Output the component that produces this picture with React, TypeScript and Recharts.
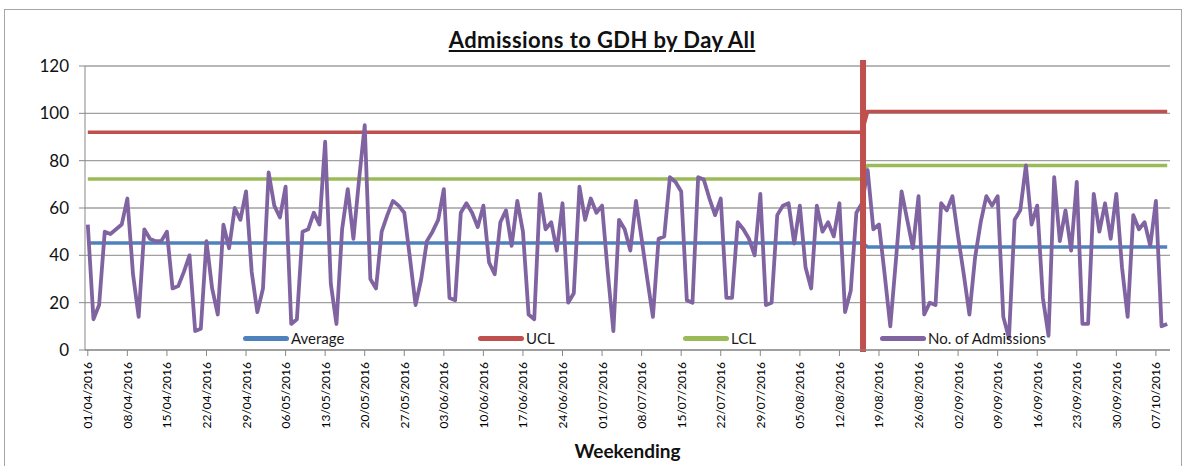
import React from 'react'
import { LineChart, Line, XAxis, YAxis, CartesianGrid, ReferenceLine, Legend } from 'recharts'

// daily admissions, 01/04/2016 .. 09/10/2016
const admissions = [
  53, 13, 19, 50, 49, 51, 53, 64, 32, 14,
  51, 47, 46, 46, 50, 26, 27, 33, 40, 8,
  9, 46, 26, 15, 53, 43, 60, 55, 67, 33,
  16, 26, 75, 61, 56, 69, 11, 13, 50, 51,
  58, 53, 88, 28, 11, 51, 68, 47, 72, 95,
  30, 26, 50, 57, 63, 61, 58, 39, 19, 30,
  46, 50, 55, 68, 22, 21, 58, 62, 58, 52,
  61, 37, 32, 54, 59, 44, 63, 50, 15, 13,
  66, 51, 54, 42, 62, 20, 24, 69, 55, 64,
  58, 61, 33, 8, 55, 51, 42, 63, 47, 30,
  14, 47, 48, 73, 71, 67, 21, 20, 73, 72,
  64, 57, 64, 22, 22, 54, 51, 47, 40, 66,
  19, 20, 57, 61, 62, 45, 61, 35, 26, 61,
  50, 54, 48, 62, 16, 25, 58, 62, 76, 51,
  53, 32, 10, 38, 67, 55, 43, 65, 15, 20,
  19, 62, 59, 65, 48, 32, 15, 39, 54, 65,
  61, 65, 14, 5, 55, 59, 78, 53, 61, 22,
  6, 73, 46, 59, 42, 71, 11, 11, 66, 50,
  62, 47, 66, 35, 14, 57, 51, 54, 44, 63,
  10, 11,
]

// control limits were recalculated from 17/08/2016
const periodStarts = [0, 138]
const averageLevels = [45.2, 43.5]
const uclLevels = [92, 100.8]
const lclLevels = [72.3, 78]

const yTicks = [0, 20, 40, 60, 80, 100, 120]

const startDate = new Date(2016, 3, 1)
const pad = (n: number) => (n < 10 ? '0' + n : '' + n)
const dates = admissions.map((_, i) => {
  const d = new Date(startDate.getFullYear(), startDate.getMonth(), startDate.getDate() + i)
  return `${pad(d.getDate())}/${pad(d.getMonth() + 1)}/${d.getFullYear()}`
})

const data = admissions.map((v, i) => {
  const p = i >= periodStarts[1] ? 1 : 0
  return {
    date: dates[i],
    admissions: v,
    average: averageLevels[p],
    ucl: uclLevels[p],
    lcl: lclLevels[p],
  }
})

const COLORS = {
  average: '#4F81BD',
  ucl: '#C0504D',
  lcl: '#9BBB59',
  admissions: '#8064A2',
}

const legendItems = [
  { label: 'Average', color: COLORS.average, left: 243 },
  { label: 'UCL', color: COLORS.ucl, left: 478 },
  { label: 'LCL', color: COLORS.lcl, left: 683 },
  { label: 'No. of Admissions', color: COLORS.admissions, left: 880 },
]

const FONT = 'Lato, "Open Sans", sans-serif'

function DateTick({ x, y, payload }: { x?: number; y?: number; payload?: { value: string } }) {
  return (
    <g transform={`translate(${x},${y})`}>
      <text x={0} y={0} dy={4.5} textAnchor="end" transform="rotate(-90)" fontSize={12} fill="#000" fontFamily={FONT}>
        {payload?.value}
      </text>
    </g>
  )
}

function LegendContent() {
  return (
    <div style={{ position: 'relative', height: 18 }}>
      {legendItems.map((it) => (
        <div key={it.label} style={{ position: 'absolute', left: it.left, top: 0, display: 'flex', alignItems: 'center', height: 18 }}>
          <span style={{ display: 'inline-block', width: 46, height: 5, borderRadius: 3, background: it.color, marginRight: 2 }} />
          <span style={{ fontSize: 15, color: '#1a1a1a', fontFamily: FONT }}>{it.label}</span>
        </div>
      ))}
    </div>
  )
}

function BreakLine(p: { x1: number; y1: number; x2: number; y2: number }) {
  const top = Math.min(p.y1, p.y2)
  const bottom = Math.max(p.y1, p.y2)
  return <line x1={p.x1 + 1} y1={top - 6} x2={p.x2 + 1} y2={bottom + 2} stroke={COLORS.ucl} strokeWidth={6} />
}

export default function App() {
  return (
    <div style={{ position: 'absolute', left: 0, top: 0, width: 1192, height: 466, background: '#fff', overflow: 'hidden', fontFamily: FONT }}>
      <div style={{ position: 'absolute', left: 4, top: 9, width: 1176, height: 480, border: '1px solid #a6a6a6' }} />
      <div style={{ position: 'absolute', left: 352, width: 500, top: 26, textAlign: 'center', fontWeight: 700, fontSize: 22, letterSpacing: 0.4, textDecoration: 'underline', color: '#111' }}>
        Admissions to GDH by Day All
      </div>
      <LineChart width={1192} height={466} data={data} margin={{ top: 66, right: 22, left: 0, bottom: 0 }} style={{ position: 'absolute', left: 0, top: 0 }}>
        <CartesianGrid vertical={false} stroke="#a0a0a0" strokeWidth={1.3} />
        <XAxis
          dataKey="date"
          interval={6}
          height={116}
          tick={<DateTick />}
          tickMargin={6}
          tickLine={{ stroke: '#888' }}
          axisLine={{ stroke: '#888' }}
          padding={{ left: 2.8, right: 2.8 }}
          label={{ value: 'Weekending', position: 'insideBottom', offset: 8, style: { fontWeight: 700, fontSize: 19, fill: '#111', fontFamily: FONT } }}
        />
        <YAxis
          domain={[0, 120]}
          ticks={yTicks}
          width={85}
          tickMargin={10}
          tick={{ fontSize: 17, fill: '#111', fontFamily: FONT }}
          tickLine={{ stroke: '#888' }}
          axisLine={{ stroke: '#888' }}
        />
        <Legend verticalAlign="middle" content={<LegendContent />} wrapperStyle={{ left: 0, top: 329, width: 1192, height: 18 }} />
        <Line dataKey="average" name="Average" stroke={COLORS.average} strokeWidth={3.5} dot={false} isAnimationActive={false} />
        <Line dataKey="ucl" name="UCL" stroke={COLORS.ucl} strokeWidth={3.5} dot={false} isAnimationActive={false} />
        <Line dataKey="lcl" name="LCL" stroke={COLORS.lcl} strokeWidth={3.5} dot={false} isAnimationActive={false} />
        <Line dataKey="admissions" name="No. of Admissions" stroke={COLORS.admissions} strokeWidth={3.8} dot={false} isAnimationActive={false} strokeLinejoin="round" />
        <ReferenceLine x={dates[periodStarts[1] - 1]} stroke={COLORS.ucl} strokeWidth={6} shape={BreakLine} />
      </LineChart>
    </div>
  )
}
